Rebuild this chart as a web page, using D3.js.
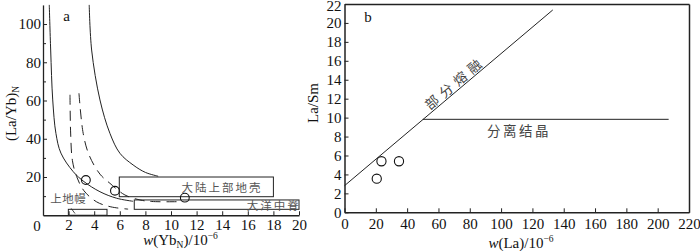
<!DOCTYPE html>
<html><head><meta charset="utf-8">
<script src="https://cdn.jsdelivr.net/npm/d3@7/dist/d3.min.js"></script>
<style>
body{margin:0;background:#fff;}
svg{display:block;}
.tick text{font-family:"Liberation Serif","Times New Roman",serif;font-size:15px;fill:#111;}
.domain,.tick line{stroke:#222;}
</style></head>
<body><svg id="c" width="700" height="251"></svg>
<script>
// ---------- Panel a data ----------
const aXTicks = [2,4,6,8,10,12,14,16,18,20];
const aYTicks = [20,40,60,80,100];
const aYMinor = [10,30,50,70,90];
const aOuterSolid = [[3.61,110],[3.80,86.4],[4.45,60.3],[5.23,42.8],[6.01,32.4],[7.04,26.3],[8.0,22.4],[9.0,20.4]];
const aInnerSolid = [[0.49,110],[0.60,86.4],[0.76,60.3],[1.01,42.8],[1.40,32.5],[2.36,22.8],[3.2,17.6],[4.45,12.3],[5.75,8.9],[7.04,7.3]];
const aDashedA = [[2.11,63],[2.16,43],[2.3,28.5],[2.63,20.2],[3.2,12.8],[4.19,7.0],[5.3,4.4],[6.65,3.2]];
const aDashedB = [[2.81,63.8],[3.14,42.8],[3.6,31.5],[4.45,21.5],[5.23,16.7],[6.4,10.6],[7.57,8.0],[8.5,7.2],[10.7,7.1]];
const aSamplesX = [3.35,5.62,11.08];
const aSamplesY = [18.4,12.8,9.2];
const aBoxNames = ["大陆上部地壳","大洋中脊","上地幔"];
const aBoxX0 = [5.96,7.13,1.98];
const aBoxX1 = [18.0,20.0,5.0];
const aBoxY0 = [9.7,3.1,0];
const aBoxY1 = [20.0,8.0,3.1];
const aLabelX = [13.98,18.02,1.97];
const aLabelY = [14.4,5.0,8.9];

// ---------- Panel b data ----------
const bXTicks = [0,20,40,60,80,100,120,140,160,180,200,220];
const bYTicks = [0,2,4,6,8,10,12,14,16,18,20,22];
const bMeltLine = [[0,2.81],[133,21.37]];
const bCrystLine = [[50,9.82],[207,9.82]];
const bSamplesX = [20.6,23.6,34.8];
const bSamplesY = [3.55,5.39,5.39];
const bMeltLabel = {text:"部分熔融", x:73.5, y:13.1};
const bCrystLabel = {text:"分离结晶", x:111.4, y:8.6};

const svg = d3.select("#c");
const serif = '"Liberation Serif","Times New Roman",serif';
const cjk = '"Noto Sans CJK SC","Noto Sans CJK JP",sans-serif';
const ink = "#222";

// ================= Panel a =================
const xL = d3.scaleLinear().domain([0,20]).range([43,299]);
const yL = d3.scaleLinear().domain([0,110]).range([215.25,4.9]);
const gA = svg.append("g");

gA.append("g").attr("transform","translate(0,"+yL(0)+")")
  .call(d3.axisBottom(xL).tickValues(aXTicks).tickSizeInner(-4).tickSizeOuter(0).tickPadding(4.5));
gA.append("g").attr("transform","translate("+xL(0)+",0)")
  .call(d3.axisLeft(yL).tickValues(aYTicks).tickSizeInner(-4).tickSizeOuter(0).tickPadding(2));
gA.append("g").attr("transform","translate("+xL(0)+",0)")
  .call(d3.axisLeft(yL).tickValues(aYMinor).tickSizeInner(-3).tickSizeOuter(0).tickFormat(""))
  .select(".domain").remove();
gA.selectAll(".domain").attr("stroke-width",1.3);
gA.append("text").attr("x",xL(0)-6).attr("y",yL(0)+15.5).attr("text-anchor","middle")
  .attr("font-family",serif).attr("font-size",15).attr("fill","#111").text("0");

aBoxNames.forEach((n,i)=>{
  gA.append("rect").attr("x",xL(aBoxX0[i])).attr("y",yL(aBoxY1[i]))
    .attr("width",xL(aBoxX1[i])-xL(aBoxX0[i])).attr("height",yL(aBoxY0[i])-yL(aBoxY1[i]))
    .attr("fill","none").attr("stroke",ink).attr("stroke-width",1);
});
aBoxNames.forEach((n,i)=>{
  gA.append("text").attr("x",xL(aLabelX[i])).attr("y",yL(aLabelY[i])+4.5)
    .attr("text-anchor","middle").attr("font-family",cjk).attr("font-size",11.5)
    .attr("letter-spacing", i===2?0.5:2).attr("fill","#555").text(n);
});
gA.append("line").attr("x1",xL(2.2)).attr("y1",yL(3.6)).attr("x2",xL(2.5)).attr("y2",yL(0.9))
  .attr("stroke",ink).attr("stroke-width",0.8);

const lineL = d3.line().x(d=>xL(d[0])).y(d=>yL(d[1])).curve(d3.curveCatmullRom.alpha(0.5));
[aOuterSolid,aInnerSolid].forEach(c=>gA.append("path").attr("d",lineL(c)).attr("fill","none").attr("stroke",ink).attr("stroke-width",1));
[aDashedA,aDashedB].forEach(c=>gA.append("path").attr("d",lineL(c)).attr("fill","none").attr("stroke",ink).attr("stroke-width",1).attr("stroke-dasharray","10,6"));

aSamplesX.forEach((x,i)=>gA.append("circle").attr("cx",xL(x)).attr("cy",yL(aSamplesY[i])).attr("r",4.4)
  .attr("fill","none").attr("stroke","#111").attr("stroke-width",1.1));

gA.append("text").attr("x",66.5).attr("y",21).attr("text-anchor","middle")
  .attr("font-family",serif).attr("font-size",15).attr("fill","#111").text("a");

const yla = gA.append("text").attr("transform","translate(15.5,113.5) rotate(-90)").attr("text-anchor","middle")
  .attr("font-family",serif).attr("font-size",15).attr("fill","#111");
yla.append("tspan").text("(La/Yb)");
yla.append("tspan").attr("font-size",9.5).attr("dy",3).text("N");
const xla = gA.append("text").attr("x",180.5).attr("y",245).attr("text-anchor","middle")
  .attr("font-family",serif).attr("font-size",15).attr("fill","#111");
xla.append("tspan").attr("font-style","italic").text("w");
xla.append("tspan").text("(Yb");
xla.append("tspan").attr("font-size",9.5).attr("dy",3).text("N");
xla.append("tspan").attr("dy",-3).text(")/10");
xla.append("tspan").attr("font-size",9.5).attr("dy",-6).text("−6");

// ================= Panel b =================
const xR = d3.scaleLinear().domain([0,220]).range([344.5,689]);
const yR = d3.scaleLinear().domain([0,22]).range([212.3,4]);
const gB = svg.append("g");
gB.append("g").attr("transform","translate(0,"+yR(0)+")")
  .call(d3.axisBottom(xR).tickValues(bXTicks).tickSizeInner(-4).tickSizeOuter(0).tickPadding(6.5));
const yAxB = gB.append("g").attr("transform","translate("+xR(0)+",0)")
  .call(d3.axisLeft(yR).tickValues(bYTicks).tickSizeInner(-4).tickSizeOuter(0).tickPadding(3));
yAxB.selectAll(".tick text").filter(d=>d===22).attr("dy","0.42em");
gB.append("g").attr("transform","translate(0,"+yR(22)+")")
  .call(d3.axisTop(xR).tickValues([]).tickSizeOuter(0));
gB.append("g").attr("transform","translate("+xR(220)+",0)")
  .call(d3.axisRight(yR).tickValues([]).tickSizeOuter(0));
gB.selectAll(".domain").attr("stroke-width",1.5);

const lineR = d3.line().x(d=>xR(d[0])).y(d=>yR(d[1]));
[bMeltLine,bCrystLine].forEach(c=>gB.append("path").attr("d",lineR(c)).attr("fill","none").attr("stroke",ink).attr("stroke-width",1));

bSamplesX.forEach((x,i)=>gB.append("circle").attr("cx",xR(x)).attr("cy",yR(bSamplesY[i])).attr("r",4.6)
  .attr("fill","none").attr("stroke","#111").attr("stroke-width",1.1));

const ang = Math.atan2(yR(bMeltLine[1][1])-yR(bMeltLine[0][1]), xR(bMeltLine[1][0])-xR(bMeltLine[0][0]))*180/Math.PI;
gB.append("text").attr("transform","translate("+xR(bMeltLabel.x)+","+yR(bMeltLabel.y)+") rotate("+ang+")")
  .attr("text-anchor","middle").attr("dy",-2).attr("font-family",cjk).attr("font-size",13.5)
  .attr("letter-spacing",5).attr("fill","#444").text(bMeltLabel.text);
gB.append("text").attr("x",xR(bCrystLabel.x)).attr("y",yR(bCrystLabel.y)+5)
  .attr("text-anchor","middle").attr("font-family",cjk).attr("font-size",13.5)
  .attr("letter-spacing",2.5).attr("fill","#444").text(bCrystLabel.text);

gB.append("text").attr("x",368).attr("y",21.5).attr("text-anchor","middle")
  .attr("font-family",serif).attr("font-size",15).attr("fill","#111").text("b");

gB.append("text").attr("transform","translate(318,103) rotate(-90)").attr("text-anchor","middle")
  .attr("font-family",serif).attr("font-size",15).attr("fill","#111").text("La/Sm");
const xlb = gB.append("text").attr("x",521).attr("y",248).attr("text-anchor","middle")
  .attr("font-family",serif).attr("font-size",15).attr("fill","#111");
xlb.append("tspan").attr("font-style","italic").text("w");
xlb.append("tspan").text("(La)/10");
xlb.append("tspan").attr("font-size",9.5).attr("dy",-6).text("−6");
</script></body></html>
